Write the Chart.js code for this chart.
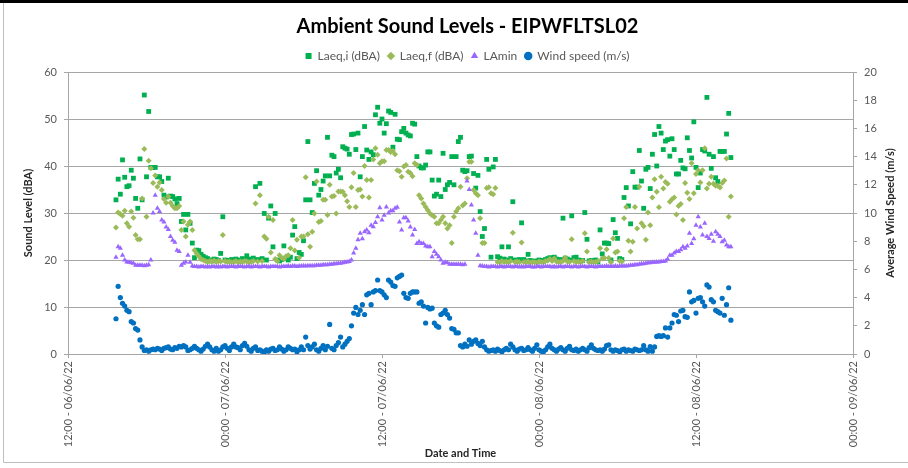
<!DOCTYPE html>
<html>
<head>
<meta charset="utf-8">
<title>Ambient Sound Levels - EIPWFLTSL02</title>
<script src="https://cdn.jsdelivr.net/npm/chart.js@4.4.1/dist/chart.umd.min.js"></script>
<style>
  html, body { margin: 0; padding: 0; background: #fff; }
  canvas { display: block; }
</style>
</head>
<body>
<canvas id="chart" width="908" height="468"></canvas>
<script>
// x axis: hours after 12:00 on 06/06/22, one tick every 12 h
const xTickLabels = ['12:00 - 06/06/22', '00:00 - 07/06/22', '12:00 - 07/06/22', '00:00 - 08/06/22', '12:00 - 08/06/22', '00:00 - 09/06/22'];

// logger readings every 10 minutes, first one at 15:40 on 06/06/22
const startHour = 3 + 40 / 60;
const stepHours = 10 / 60;

const laeqI = [
  32.8, 37.2, 34.0, 41.3, 37.6, 35.6,
  35.8, 39.1, 37.4, 33.1, 31.0, 41.5,
  32.8, 55.1, 37.7, 51.6, 39.7, 39.7,
  39.7, 37.7, 37.7, 36.7, 33.8, 33.4,
  37.4, 33.6, 33.5, 33.0, 32.0, 33.1,
  28.2, 29.7, 26.4, 29.7, 27.8, 23.6,
  20.5, 22.1, 22.0, 21.2, 20.8, 20.5,
  20.3, 20.0, 19.8, 20.2, 20.1, 19.9,
  21.4, 29.2, 20.0, 19.8, 19.9, 20.1,
  19.9, 20.2, 20.0, 19.8, 20.3, 20.1,
  20.9, 20.2, 20.0, 20.4, 35.6, 20.1,
  36.3, 20.3, 29.9, 20.0, 28.9, 31.5,
  22.8, 29.9, 20.0, 19.8, 20.1, 23.0,
  20.4, 20.0, 20.6, 25.3, 27.1, 20.3,
  21.6, 21.2, 24.1, 32.8, 45.2, 32.8,
  30.1, 36.3, 39.0, 33.8, 35.0, 36.8,
  37.9, 46.1, 37.9, 42.3, 42.0, 38.5,
  39.3, 37.5, 44.1, 43.8, 43.6, 42.5,
  46.7, 46.8, 43.5, 47.0, 37.7, 42.0,
  48.4, 43.4, 41.4, 43.0, 42.4, 50.9,
  52.5, 49.1, 50.0, 47.0, 49.0, 51.7,
  51.4, 44.0, 51.0, 45.7, 45.6, 47.3,
  48.0, 47.0, 46.6, 46.4, 49.1, 48.9,
  42.0, 40.0, 39.6, 39.6, 40.2, 43.0,
  43.0, 37.0, 33.6, 34.0, 37.0, 33.5,
  42.7, 35.0, 36.0, 36.5, 42.0, 36.0,
  42.0, 45.2, 46.1, 39.1, 38.8, 39.0,
  42.0, 42.1, 38.4, 35.3, 38.0, 30.3,
  25.0, 26.7, 41.4, 39.3, 20.6, 39.8,
  41.4, 20.7, 20.4, 22.8, 20.2, 20.0,
  22.8, 20.3, 32.4, 20.0, 19.8, 20.1,
  27.9, 20.1, 19.8, 21.2, 19.9, 19.7,
  19.8, 19.7, 20.0, 19.9, 19.8, 20.1,
  20.3, 20.5, 20.2, 20.6, 20.2, 20.0,
  20.1, 28.9, 20.4, 20.2, 20.0, 29.4,
  20.5, 20.6, 20.0, 19.8, 19.9, 30.1,
  24.4, 19.8, 19.9, 19.7, 20.0, 19.6,
  26.4, 21.3, 23.6, 23.6, 23.5, 20.0,
  28.6, 25.8, 24.6, 20.3, 20.1, 33.3,
  35.4, 31.5, 27.7, 38.8, 35.5, 35.5,
  43.3, 36.8, 31.0, 39.3, 39.7, 35.2,
  42.5, 46.7, 40.0, 48.4, 47.0, 43.5,
  45.3, 45.6, 42.1, 45.8, 43.5, 38.3,
  38.3, 41.2, 39.6, 39.4, 46.0, 43.3,
  41.7, 49.4, 39.7, 35.4, 38.5, 43.5,
  43.2, 54.6, 42.5, 39.5, 42.0, 37.5,
  36.7, 43.1, 43.1, 43.1, 46.8, 51.2,
  41.8
];

const laeqF = [
  26.9, 30.1, 29.8, 29.4, 30.5, 27.8,
  27.1, 30.3, 29.0, 25.3, 24.4, 24.4,
  33.1, 43.6, 29.2, 41.1, 39.5, 36.4,
  38.0, 35.6, 36.5, 34.9, 33.0, 32.2,
  33.5, 32.2, 31.5, 31.0, 31.0, 31.5,
  26.4, 28.2, 25.0, 27.5, 28.2, 26.4,
  22.1, 21.4, 20.8, 20.2, 20.0, 19.8,
  19.6, 19.8, 19.7, 19.9, 19.6, 19.8,
  19.7, 25.3, 19.8, 19.6, 19.7, 19.5,
  19.6, 19.8, 19.5, 19.7, 19.6, 19.8,
  19.7, 19.5, 19.6, 19.8, 32.0, 19.7,
  33.8, 19.8, 25.0, 24.5, 29.2, 21.6,
  28.5, 20.2, 19.8, 21.0, 20.5, 20.2,
  20.8, 21.0, 22.5, 28.5, 22.0, 24.3,
  20.5, 25.0, 25.0, 37.6, 25.5, 22.8,
  26.0, 29.9, 36.7, 28.1, 28.3, 32.8,
  32.8, 29.6, 36.0, 33.5, 33.6, 29.9,
  34.6, 34.6, 34.5, 33.8, 32.5, 31.3,
  35.5, 38.5, 31.3, 34.9, 35.0, 33.5,
  40.0, 37.0, 33.3, 37.0, 41.4, 43.8,
  42.4, 40.6, 41.0, 41.0, 43.4, 43.4,
  43.0, 43.2, 42.5, 39.1, 38.9, 37.7,
  39.9, 40.2, 38.8, 38.5, 37.8, 40.6,
  40.2, 33.8, 33.1, 32.0, 31.3, 30.6,
  29.9, 29.5, 29.2, 27.8, 27.8, 28.5,
  29.2, 27.8, 26.7, 27.4, 23.6, 29.2,
  30.3, 31.0, 35.6, 31.6, 32.0, 37.4,
  40.9, 40.9, 34.9, 34.2, 33.8, 28.9,
  23.6, 23.6, 35.3, 35.5, 34.2, 34.0,
  35.3, 19.6, 19.5, 19.8, 19.6, 19.7,
  19.5, 19.8, 25.8, 19.6, 19.7, 19.5,
  23.7, 19.6, 19.5, 19.7, 19.4, 19.6,
  19.5, 19.4, 19.7, 19.6, 19.5, 19.8,
  19.9, 20.2, 19.8, 20.3, 19.7, 19.6,
  19.6, 19.8, 20.5, 19.7, 19.6, 24.4,
  19.8, 19.6, 19.7, 19.5, 19.8, 25.7,
  21.8, 19.6, 19.7, 19.5, 19.6, 19.8,
  22.5, 20.3, 20.4, 22.3, 20.4, 19.5,
  24.6, 21.6, 21.8, 19.8, 19.7, 28.9,
  31.3, 24.1, 21.8, 23.9, 31.3, 26.7,
  35.6, 27.8, 27.2, 24.3, 30.1, 27.4,
  33.3, 37.2, 34.5, 31.2, 37.7, 35.2,
  36.6, 36.2, 32.4, 32.9, 33.3, 29.7,
  31.5, 31.9, 28.5, 36.4, 34.3, 33.0,
  40.6, 34.2, 38.3, 39.1, 36.5, 39.1,
  43.8, 35.2, 36.2, 37.7, 36.2, 35.8,
  35.8, 35.4, 36.4, 36.9, 41.6, 29.2,
  33.5
];

const laMin = [
  20.6, 22.8, 22.5, 21.0, 20.0, 19.6,
  19.5, 19.4, 19.3, 18.9, 18.9, 18.9,
  18.9, 18.8, 18.9, 19.0, 20.0, 30.0,
  33.8, 31.0, 30.3, 28.5, 28.1, 27.0,
  26.5, 25.0, 24.2, 23.8, 22.1, 21.8,
  18.9, 19.3, 19.6, 21.0, 19.5, 18.7,
  18.6, 18.6, 18.5, 18.6, 18.6, 18.5,
  18.6, 18.5, 18.6, 18.6, 18.5, 18.6,
  18.5, 18.6, 18.6, 18.5, 18.6, 18.6,
  18.6, 18.5, 18.6, 18.6, 18.6, 18.5,
  18.6, 18.6, 18.5, 18.6, 18.6, 18.6,
  18.5, 18.6, 18.6, 18.6, 18.5, 18.6,
  18.6, 18.6, 18.6, 18.5, 18.6, 18.6,
  18.6, 18.7, 18.6, 18.7, 18.7, 18.6,
  18.7, 18.7, 18.8, 18.7, 18.8, 18.8,
  18.8, 18.8, 18.9, 18.9, 18.9, 19.0,
  19.0, 19.0, 19.1, 19.1, 19.2, 19.2,
  19.3, 19.3, 19.4, 19.5, 19.6, 19.7,
  20.0, 21.5, 22.5, 24.3, 25.7, 24.5,
  26.0, 26.4, 25.8, 27.4, 27.1, 28.0,
  29.2, 31.1, 28.5, 29.5, 31.3, 30.0,
  30.5, 30.5, 31.0, 31.2, 28.1, 26.4,
  29.0, 29.0, 28.3, 27.0, 25.3, 26.5,
  23.5, 23.9, 23.5, 23.5, 23.0, 22.8,
  22.8, 20.7, 21.8, 21.2, 20.7, 20.0,
  19.3, 19.5, 19.4, 19.1, 19.1, 19.1,
  19.1, 19.1, 19.1, 19.0, 19.1, 36.8,
  35.0, 31.7, 28.5, 25.7, 21.0, 18.8,
  18.7, 18.6, 18.6, 18.5, 18.6, 18.6,
  18.6, 18.5, 18.6, 18.6, 18.5, 18.6,
  18.6, 18.6, 18.5, 18.6, 18.6, 18.5,
  18.6, 18.5, 18.6, 18.6, 18.6, 18.5,
  18.5, 18.6, 18.6, 18.5, 18.6, 18.6,
  18.6, 18.6, 18.5, 18.6, 18.5, 18.6,
  18.6, 18.5, 18.6, 18.6, 18.6, 18.5,
  18.6, 18.6, 18.5, 18.6, 18.6, 18.6,
  18.5, 18.6, 18.6, 18.6, 18.5, 18.6,
  18.6, 18.6, 18.6, 18.7, 18.6, 18.6,
  18.6, 18.7, 18.6, 18.7, 18.7, 18.7,
  18.7, 18.8, 18.9, 18.9, 19.0, 19.0,
  19.1, 19.2, 19.2, 19.3, 19.4, 19.4,
  19.5, 19.5, 19.6, 19.6, 19.7, 19.7,
  19.8, 20.2, 21.0, 21.0, 21.5, 21.8,
  21.8, 22.2, 22.8, 22.5, 23.0, 25.7,
  23.5, 24.5, 27.4, 29.2, 27.0, 25.3,
  27.8, 25.0, 24.6, 25.5, 24.0, 26.0,
  25.5, 25.0, 23.9, 24.2, 23.2, 22.8,
  22.8
];

const windSpeed = [
  2.5, 4.8, 4.0, 3.6, 3.4, 3.1,
  3.0, 2.3, 2.2, 1.8, 1.7, 1.0,
  0.5, 0.25, 0.3, 0.2, 0.3, 0.35,
  0.3, 0.4, 0.35, 0.25, 0.4, 0.45,
  0.5, 0.35, 0.3, 0.45, 0.4, 0.55,
  0.5, 0.6, 0.5, 0.25, 0.3, 0.4,
  0.55, 0.4, 0.3, 0.2, 0.35, 0.55,
  0.7, 0.5, 0.3, 0.2, 0.4, 0.2,
  0.3, 0.5, 0.6, 0.4, 0.25, 0.5,
  0.7, 0.5, 0.45, 0.3, 0.6, 0.75,
  0.55, 0.3, 0.2, 0.4, 0.5, 0.25,
  0.3, 0.2, 0.1, 0.3, 0.2, 0.35,
  0.4, 0.25, 0.3, 0.5, 0.35, 0.2,
  0.3, 0.5, 0.4, 0.3, 0.35, 0.15,
  0.3, 0.5, 0.3, 1.2, 0.6, 0.35,
  0.5, 0.7, 0.3, 0.2, 0.4, 0.6,
  0.3, 0.55, 2.1, 0.4, 0.3, 0.6,
  0.8, 1.2, 0.5, 0.7, 0.9, 1.1,
  2.0, 2.9, 3.3, 2.8, 3.1, 3.5,
  2.8, 4.2, 4.3, 3.5, 4.4, 4.5,
  5.25, 4.5, 4.4, 4.2, 4.0, 5.25,
  5.1, 4.85, 4.8, 5.4, 5.5, 5.6,
  4.3, 4.0, 3.95, 4.3, 4.4, 4.4,
  4.4, 3.6, 3.7, 3.4, 2.2, 3.3,
  3.2, 3.25, 2.2, 2.0, 1.9, 2.8,
  2.9, 3.1, 2.8, 2.55, 1.8, 1.75,
  1.5, 1.5, 0.6, 0.5, 0.7, 0.55,
  1.0, 0.7, 0.9, 1.0, 0.75, 0.6,
  0.9, 0.5, 0.3, 0.2, 0.25, 0.3,
  0.2, 0.35, 0.25, 0.15, 0.3, 0.4,
  0.3, 0.7, 0.5, 0.3, 0.2, 0.35,
  0.4, 0.25, 0.3, 0.45, 0.3, 0.2,
  0.4, 0.65, 0.3, 0.2, 0.15, 0.3,
  0.5, 0.7, 0.4, 0.3, 0.2, 0.35,
  0.45, 0.3, 0.2, 0.4, 0.55, 0.3,
  0.25, 0.35, 0.2, 0.3, 0.4, 0.3,
  0.2, 0.45, 0.65, 0.4, 0.3, 0.25,
  0.3, 0.2, 0.35, 0.6, 0.65, 0.3,
  0.2, 0.3, 0.25, 0.15, 0.3, 0.35,
  0.2, 0.3, 0.25, 0.2, 0.35, 0.3,
  0.25, 0.3, 0.6, 0.3, 0.2, 0.52,
  0.2, 0.5, 1.25, 1.3, 1.25, 1.3,
  1.85, 1.2, 1.85, 2.2, 2.8, 2.75,
  2.3, 3.05, 3.1, 2.65, 2.6, 4.4,
  3.7, 3.8, 2.9, 3.95, 4.0, 3.7,
  3.4, 4.9, 4.75, 3.85, 3.7, 3.1,
  3.0, 2.9, 3.95, 2.75, 3.5, 4.7,
  2.4
];

const toPoints = values => values.map((v, i) => ({ x: startHour + i * stepHours, y: v }));

const FONT = 'Lato, "Open Sans", sans-serif';
const gridGrey = '#a6a6a6';
const axisTitleFont = { family: FONT, size: 11, weight: 'bold' };

// white page with the thin frame of the exported chart
const framePlugin = {
  id: 'frame',
  beforeDraw(chart) {
    const ctx = chart.ctx;
    ctx.save();
    ctx.fillStyle = '#ffffff';
    ctx.fillRect(0, 0, chart.width, chart.height);
    ctx.fillStyle = '#000000';
    ctx.fillRect(0, 0, chart.width, 3);
    ctx.strokeStyle = '#bfbfbf';
    ctx.lineWidth = 1;
    ctx.beginPath();
    ctx.moveTo(3.5, 3);
    ctx.lineTo(3.5, 462.5);
    ctx.lineTo(chart.width, 462.5);
    ctx.stroke();
    ctx.restore();
  }
};

// secondary axis title, read bottom to top like the primary one
const rightTitlePlugin = {
  id: 'rightTitle',
  afterDraw(chart) {
    const s = chart.scales.y1;
    const ctx = chart.ctx;
    ctx.save();
    ctx.translate(890, (s.top + s.bottom) / 2);
    ctx.rotate(-Math.PI / 2);
    ctx.font = `bold ${axisTitleFont.size}px ${FONT}`;
    ctx.fillStyle = '#262626';
    ctx.textAlign = 'center';
    ctx.textBaseline = 'middle';
    ctx.fillText('Average Wind Speed (m/s)', 0, 0);
    ctx.restore();
  }
};

new Chart(document.getElementById('chart'), {
  type: 'scatter',
  data: {
    datasets: [
      {
        label: 'Laeq,i (dBA)',
        data: toPoints(laeqI),
        yAxisID: 'y',
        pointStyle: 'rect',
        pointRadius: 3.4,
        backgroundColor: '#00B050',
        borderColor: '#00B050',
        borderWidth: 0,
        order: 4,
      },
      {
        label: 'Laeq,f (dBA)',
        data: toPoints(laeqF),
        yAxisID: 'y',
        pointStyle: 'rectRot',
        pointRadius: 3,
        backgroundColor: '#9BBB59',
        borderColor: '#9BBB59',
        borderWidth: 0,
        order: 3,
      },
      {
        label: 'LAmin',
        data: toPoints(laMin),
        yAxisID: 'y',
        pointStyle: 'triangle',
        pointRadius: 3,
        backgroundColor: '#9966FF',
        borderColor: '#9966FF',
        borderWidth: 0,
        order: 2,
      },
      {
        label: 'Wind speed (m/s)',
        data: toPoints(windSpeed),
        yAxisID: 'y1',
        pointStyle: 'circle',
        pointRadius: 2.6,
        backgroundColor: '#0070C0',
        borderColor: '#0070C0',
        borderWidth: 0,
        order: 1,
      },
    ],
  },
  options: {
    responsive: false,
    animation: false,
    events: [],
    layout: { padding: { left: 27, right: 0, top: 0, bottom: 0 } },
    plugins: {
      tooltip: { enabled: false },
      title: {
        display: true,
        text: 'Ambient Sound Levels - EIPWFLTSL02',
        color: '#000000',
        font: { family: FONT, size: 20, weight: 'bold' },
        padding: { top: 15, bottom: 3 },
      },
      legend: {
        display: true,
        position: 'top',
        labels: {
          usePointStyle: true,
          boxWidth: 6,
          boxHeight: 6,
          padding: 8,
          color: '#595959',
          font: { family: FONT, size: 12 },
          sort: (a, b) => a.datasetIndex - b.datasetIndex,
        },
      },
    },
    scales: {
      x: {
        type: 'linear',
        position: 'bottom',
        min: 0,
        max: 60,
        afterFit: scale => { scale.height = 114; },
        border: { display: true, color: gridGrey },
        grid: { drawOnChartArea: false, drawTicks: true, tickLength: 4, color: gridGrey },
        ticks: {
          stepSize: 12,
          autoSkip: false,
          maxRotation: 90,
          minRotation: 90,
          padding: 3,
          color: '#595959',
          font: { family: FONT, size: 11 },
          callback: value => xTickLabels[value / 12],
        },
        title: {
          display: true,
          text: 'Date and Time',
          color: '#262626',
          font: axisTitleFont,
          padding: { top: 0, bottom: 8.4 },
        },
      },
      y: {
        position: 'left',
        min: 0,
        max: 60,
        afterFit: scale => { scale.width = 41; },
        border: { display: true, color: gridGrey },
        grid: { color: gridGrey, drawTicks: true, tickLength: 4 },
        ticks: {
          stepSize: 10,
          padding: 7,
          color: '#595959',
          font: { family: FONT, size: 11 },
        },
        title: {
          display: true,
          text: 'Sound Level (dBA)',
          color: '#262626',
          font: axisTitleFont,
          padding: { top: -5.6, bottom: 0 },
        },
      },
      y1: {
        position: 'right',
        min: 0,
        max: 20,
        afterFit: scale => { scale.width = 55; },
        border: { display: true, color: gridGrey },
        grid: { drawOnChartArea: false, drawTicks: true, tickLength: 4, color: gridGrey },
        ticks: {
          stepSize: 2,
          padding: 7,
          color: '#595959',
          font: { family: FONT, size: 11 },
        },
      },
    },
  },
  plugins: [framePlugin, rightTitlePlugin],
});
</script>
</body>
</html>
